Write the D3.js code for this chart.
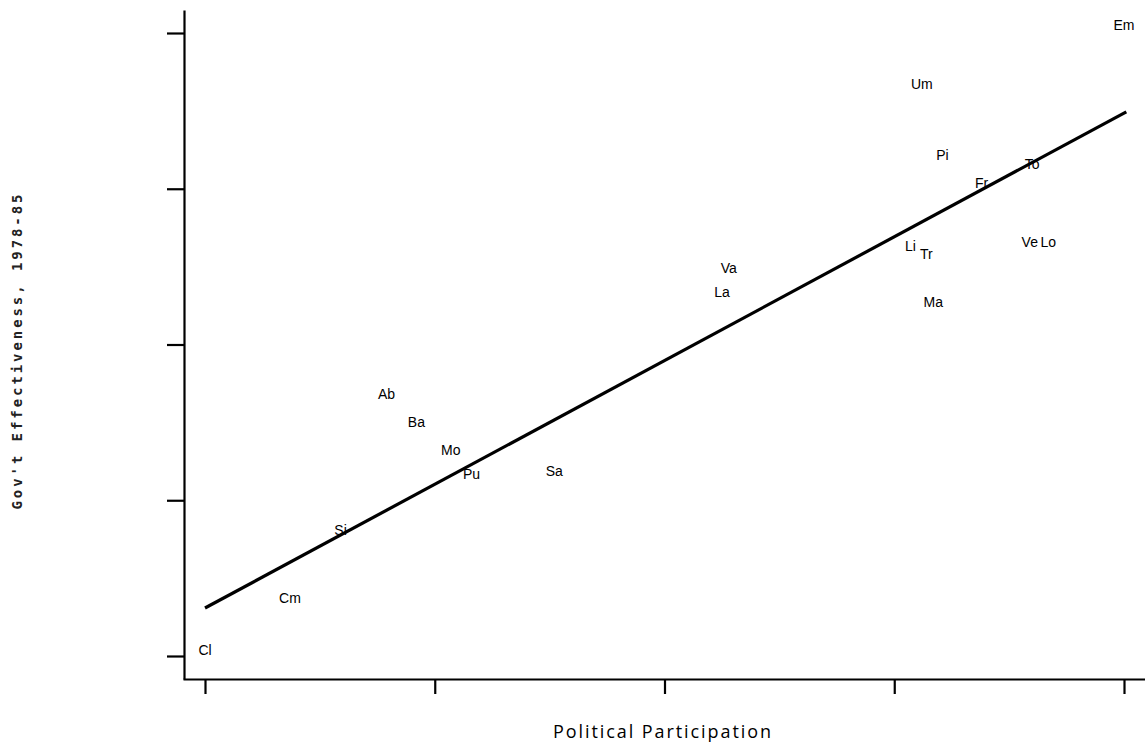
<!DOCTYPE html>
<html>
<head>
<meta charset="utf-8">
<script src="https://cdn.jsdelivr.net/npm/d3@7"></script>
<style>
  html, body { margin: 0; padding: 0; background: #fff; }
  svg { display: block; }
</style>
</head>
<body>
<svg id="chart" width="1145" height="747"></svg>
<script>
// ---- data ----
const labels = ["Em","Um","Pi","To","Fr","Li","Tr","Ve","Lo","Ma","Va","La","Ab","Ba","Mo","Pu","Sa","Si","Cm","Cl"];
const participation = [4.00,3.12,3.21,3.60,3.38,3.07,3.14,3.59,3.67,3.17,2.28,2.25,0.79,0.92,1.07,1.16,1.52,0.59,0.37,0.00];
const effectiveness = [4.05,3.67,3.22,3.16,3.04,2.63,2.58,2.66,2.66,2.27,2.49,2.34,1.68,1.50,1.32,1.17,1.19,0.81,0.37,0.04];
const tickValues = [0,1,2,3,4];
const fitX = [0, 4.01];
const fitIntercept = 0.308, fitSlope = 0.7945;

const svg = d3.select("#chart");
const x = d3.scaleLinear().domain([0,4]).range([205,1124]);
const y = d3.scaleLinear().domain([0,4]).range([656,33]);

// axis scales extended to reach the full axis line extent
const xAxisScale = d3.scaleLinear().domain([x.invert(183), x.invert(1145)]).range([183,1145]);
const yAxisScale = d3.scaleLinear().domain([y.invert(679), y.invert(10)]).range([679,10]);

const gx = svg.append("g").attr("transform","translate(0,679)")
  .call(d3.axisBottom(xAxisScale).tickValues(tickValues).tickSize(15).tickSizeOuter(0).tickFormat(""));
const gy = svg.append("g").attr("transform","translate(184,0)")
  .call(d3.axisLeft(yAxisScale).tickValues(tickValues).tickSize(17).tickSizeOuter(0).tickFormat(""));
[gx, gy].forEach(g => {
  g.selectAll("path,line").attr("stroke","#000").attr("stroke-width",2.2);
});

// regression line
svg.append("line")
  .attr("x1", x(fitX[0])).attr("y1", y(fitIntercept + fitSlope*fitX[0]))
  .attr("x2", x(fitX[1])).attr("y2", y(fitIntercept + fitSlope*fitX[1]))
  .attr("stroke","#000").attr("stroke-width",3.2);

// point labels
svg.append("g").selectAll("text").data(labels).join("text")
  .attr("x",(d,i)=>x(participation[i]))
  .attr("y",(d,i)=>y(effectiveness[i]))
  .attr("text-anchor","middle")
  .attr("dy","0.36em")
  .attr("font-family","'Liberation Sans', Arial, sans-serif")
  .attr("font-size",14)
  .attr("fill","#000")
  .text(d=>d);

// axis titles
svg.append("text")
  .attr("x",662).attr("y",738)
  .attr("text-anchor","middle")
  .attr("font-family","'Open Sans', 'DejaVu Sans', sans-serif")
  .attr("font-size",18)
  .attr("fill","#000")
  .attr("textLength",218)
  .attr("lengthAdjust","spacing")
  .text("Political Participation");

svg.append("text")
  .attr("transform","translate(22,352) rotate(-90)")
  .attr("text-anchor","middle")
  .attr("font-family","'DejaVu Sans Mono', monospace")
  .attr("font-size",14)
  .attr("font-weight","bold")
  .attr("fill","#222")
  .attr("textLength",315)
  .attr("lengthAdjust","spacing")
  .text("Gov't Effectiveness, 1978-85");
</script>
</body>
</html>
